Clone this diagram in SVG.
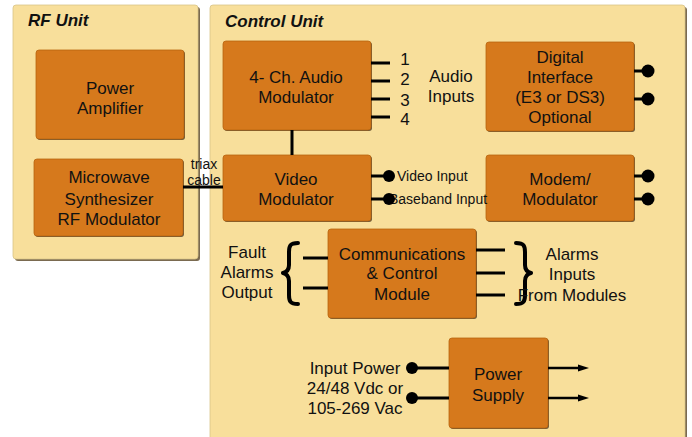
<svg xmlns="http://www.w3.org/2000/svg" width="692" height="437" viewBox="0 0 692 437">
<defs>
<style>
.panel{fill:#F8DF9B;stroke:#D8C488;stroke-width:0.8}
.pshadow{fill:#7A6A50}
.box{fill:#D6791C;stroke:#B8650F;stroke-width:0.8}
.bshadow{fill:#6E5A3A}
text{font-family:"Liberation Sans",Arial,sans-serif;fill:#111}
.t{font-size:17px;text-anchor:middle}
.h{font-size:17px;font-weight:bold;font-style:italic}
.s{font-size:14px}
.ln{stroke:#000;stroke-width:3;fill:none}
.dot{fill:#000}
.br{stroke:#000;stroke-width:4;fill:none;stroke-linecap:round;stroke-linejoin:round}
.ah{fill:#000}
</style>
</defs>

<g id="rf-unit">
<rect class="pshadow" x="15" y="7" width="185" height="254" rx="3"/>
<rect class="panel" x="13" y="5" width="185" height="254" rx="3"/>
<text class="h" x="28" y="26">RF Unit</text>
</g>

<g id="control-unit">
<rect class="pshadow" x="212" y="7" width="475" height="440" rx="3"/>
<rect class="panel" x="210" y="5" width="475" height="440" rx="3"/>
<text class="h" x="225" y="27">Control Unit</text>
</g>

<g id="power-amplifier">
<rect class="bshadow" x="37" y="51" width="148" height="89" rx="3"/>
<rect class="box" x="36" y="50" width="148" height="89" rx="3"/>
<text class="t" x="110" y="94">Power</text>
<text class="t" x="110" y="114">Amplifier</text>
</g>

<g id="microwave-synthesizer">
<rect class="bshadow" x="35" y="160" width="149" height="77" rx="3"/>
<rect class="box" x="34" y="159" width="149" height="77" rx="3"/>
<text class="t" x="109" y="183">Microwave</text>
<text class="t" x="109" y="205">Synthesizer</text>
<text class="t" x="109" y="225">RF Modulator</text>
</g>

<g id="audio-modulator">
<rect class="bshadow" x="224" y="42" width="148" height="89" rx="3"/>
<rect class="box" x="223" y="41" width="148" height="89" rx="3"/>
<text class="t" x="296" y="83">4- Ch. Audio</text>
<text class="t" x="296" y="103">Modulator</text>
</g>

<g id="video-modulator">
<rect class="bshadow" x="224" y="156" width="148" height="66" rx="3"/>
<rect class="box" x="223" y="155" width="148" height="66" rx="3"/>
<text class="t" x="296" y="185">Video</text>
<text class="t" x="296" y="205">Modulator</text>
</g>

<g id="digital-interface">
<rect class="bshadow" x="487" y="43" width="148" height="89" rx="3"/>
<rect class="box" x="486" y="42" width="148" height="89" rx="3"/>
<text class="t" x="560" y="63">Digital</text>
<text class="t" x="560" y="83">Interface</text>
<text class="t" x="560" y="103">(E3 or DS3)</text>
<text class="t" x="560" y="123">Optional</text>
</g>

<g id="modem-modulator">
<rect class="bshadow" x="487" y="156" width="148" height="66" rx="3"/>
<rect class="box" x="486" y="155" width="148" height="66" rx="3"/>
<text class="t" x="560" y="185">Modem/</text>
<text class="t" x="560" y="205">Modulator</text>
</g>

<g id="comm-control">
<rect class="bshadow" x="329" y="230" width="148" height="89" rx="3"/>
<rect class="box" x="328" y="229" width="148" height="89" rx="3"/>
<text class="t" x="402" y="260">Communications</text>
<text class="t" x="402" y="279">&amp; Control</text>
<text class="t" x="402" y="300">Module</text>
</g>

<g id="power-supply">
<rect class="bshadow" x="450" y="339" width="99" height="90" rx="3"/>
<rect class="box" x="449" y="338" width="99" height="90" rx="3"/>
<text class="t" x="498" y="380">Power</text>
<text class="t" x="498" y="401">Supply</text>
</g>

<g id="connectors">
<line class="ln" x1="183" y1="187" x2="223" y2="187"/>
<line class="ln" x1="292" y1="130" x2="292" y2="155"/>
<line class="ln" x1="371" y1="63" x2="390" y2="63"/>
<line class="ln" x1="371" y1="81" x2="390" y2="81"/>
<line class="ln" x1="371" y1="99" x2="390" y2="99"/>
<line class="ln" x1="371" y1="117" x2="390" y2="117"/>
<line class="ln" x1="371" y1="176" x2="389" y2="176"/>
<line class="ln" x1="371" y1="199" x2="389" y2="199"/>
<line class="ln" x1="634" y1="71" x2="648" y2="71"/>
<line class="ln" x1="634" y1="99" x2="648" y2="99"/>
<circle class="dot" cx="648" cy="71" r="6.5"/>
<circle class="dot" cx="648" cy="99" r="6.5"/>
<line class="ln" x1="634" y1="176" x2="648" y2="176"/>
<line class="ln" x1="634" y1="199" x2="648" y2="199"/>
<circle class="dot" cx="648" cy="176" r="6.5"/>
<circle class="dot" cx="648" cy="199" r="6.5"/>
<line class="ln" x1="303" y1="258" x2="328" y2="258"/>
<line class="ln" x1="303" y1="288" x2="328" y2="288"/>
<line class="ln" x1="476" y1="250" x2="505" y2="250"/>
<line class="ln" x1="476" y1="273" x2="505" y2="273"/>
<line class="ln" x1="476" y1="295" x2="505" y2="295"/>
<path class="br" d="M298,243 C290,243 289,246 289,252 L289,265 C289,270 287,272 283,273 C287,274 289,276 289,281 L289,295 C289,301 290,304 298,304"/>
<path class="br" d="M516,243 C524,243 525,246 525,252 L525,265 C525,270 527,272 531,273 C527,274 525,276 525,281 L525,295 C525,301 524,304 516,304"/>
<line class="ln" x1="412" y1="368" x2="449" y2="368"/>
<line class="ln" x1="412" y1="398" x2="449" y2="398"/>
<line x1="548" y1="368" x2="580" y2="368" stroke="#000" stroke-width="2.5"/>
<line x1="548" y1="398" x2="580" y2="398" stroke="#000" stroke-width="2.5"/>
<polygon class="ah" points="578,364.5 589,368 578,371.5"/>
<polygon class="ah" points="578,394.5 589,398 578,401.5"/>
</g>

<g id="labels">
<text class="s" x="204" y="169" text-anchor="middle">triax</text>
<text class="s" x="204" y="185" text-anchor="middle">cable</text>
<text class="t" x="405" y="65">1</text>
<text class="t" x="405" y="85">2</text>
<text class="t" x="405" y="106">3</text>
<text class="t" x="405" y="125">4</text>
<text class="t" x="451" y="82">Audio</text>
<text class="t" x="451" y="102">Inputs</text>
<text class="s" x="397" y="181">Video Input</text>
<text class="s" x="389" y="204">Baseband Input</text>
<text class="t" x="247" y="258">Fault</text>
<text class="t" x="247" y="278">Alarms</text>
<text class="t" x="247" y="298">Output</text>
<text class="t" x="572" y="260">Alarms</text>
<text class="t" x="572" y="280">Inputs</text>
<text class="t" x="572" y="301">From Modules</text>
<text class="t" x="355" y="374">Input Power</text>
<text class="t" x="355" y="394">24/48 Vdc or</text>
<text class="t" x="355" y="414">105-269 Vac</text>
</g>

<g id="dots-over">
<circle class="dot" cx="389" cy="176" r="6"/>
<circle class="dot" cx="389" cy="199" r="6"/>
<circle class="dot" cx="412" cy="368" r="6"/>
<circle class="dot" cx="412" cy="398" r="6"/>
</g>
</svg>
